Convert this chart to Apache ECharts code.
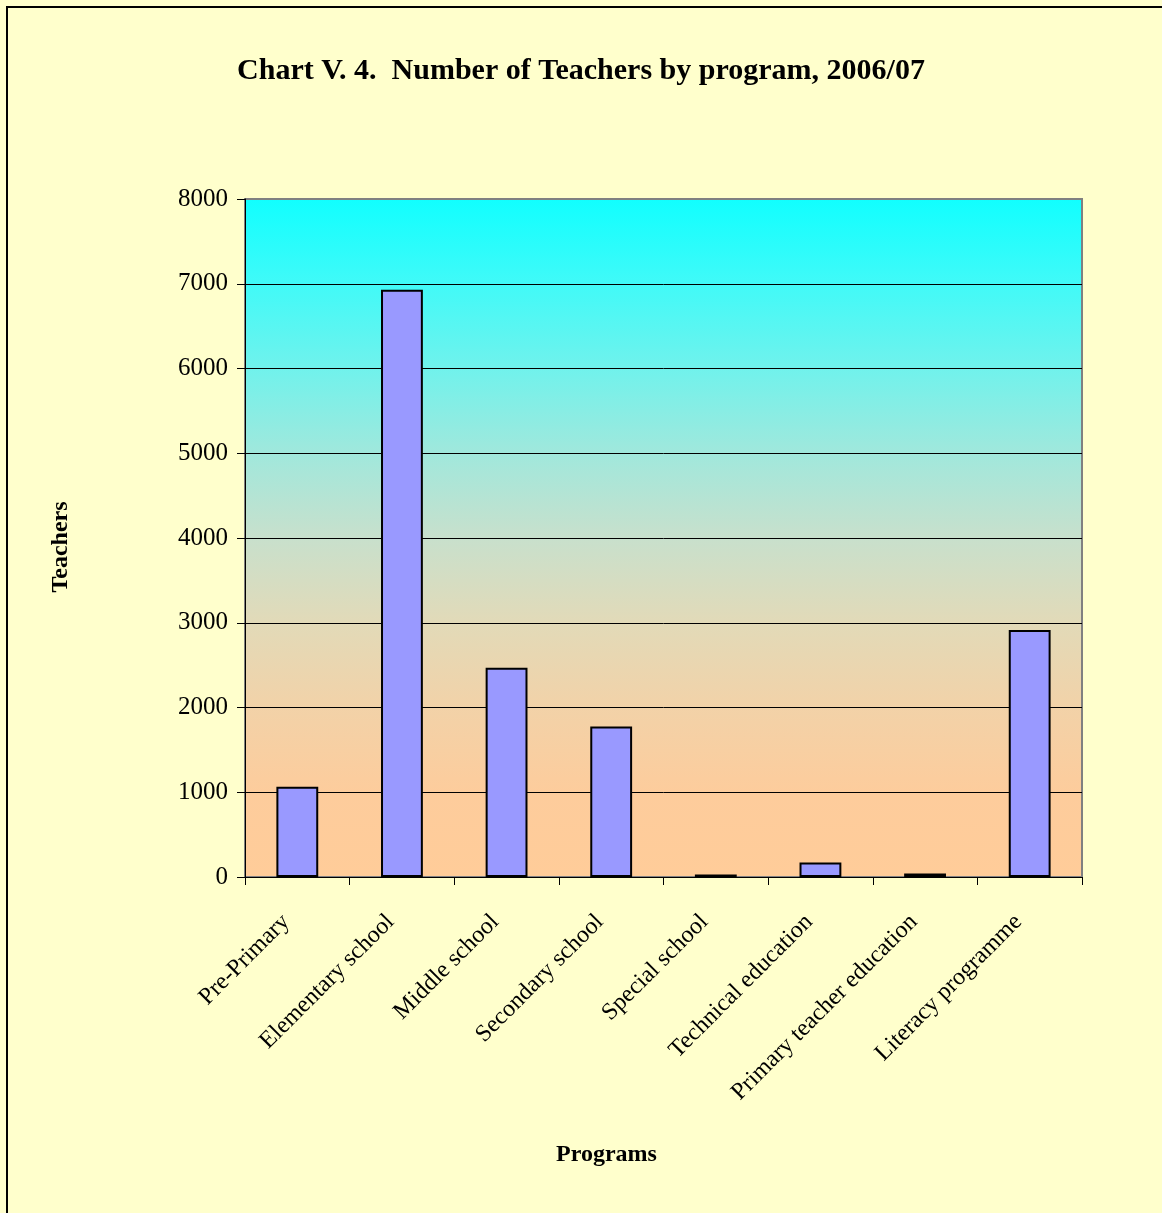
<!DOCTYPE html>
<html>
<head>
<meta charset="utf-8">
<script src="https://cdn.jsdelivr.net/npm/echarts@6/dist/echarts.min.js"></script>
<style>
  html, body { margin: 0; padding: 0; background: #FFFFCC; }
</style>
</head>
<body>
<div id="teachers" style="width:1162px;height:1213px;"></div>
<script>
  // data
  var programs = ['Pre-Primary', 'Elementary school', 'Middle school', 'Secondary school',
    'Special school', 'Technical education', 'Primary teacher education', 'Literacy programme']
  var teachers = [1065, 6930, 2470, 1775, 30, 170, 40, 2915]
  var yTicks = [0, 1000, 2000, 3000, 4000, 5000, 6000, 7000, 8000]

  var font = '"Liberation Serif", "Times New Roman", serif'

  var chart = echarts.init(document.getElementById('teachers'))
  var option = {
    backgroundColor: '#FFFFCC',
    textStyle: { fontFamily: font },
    title: {
      text: 'Chart V. 4.  Number of Teachers by program, 2006/07',
      left: 'center',
      top: 51,
      textStyle: {
        fontFamily: font,
        fontWeight: 'bold',
        fontSize: 30,
        color: '#000'
      }
    },
    graphic: [
      {
        type: 'rect',
        shape: { x: 7, y: 7, width: 1300, height: 1300 },
        style: { fill: 'none', stroke: '#000', lineWidth: 2 },
        silent: true
      }
    ],
    grid: {
      left: 245,
      right: 80,
      top: 199,
      bottom: 336,
      show: true,
      borderColor: '#808080',
      borderWidth: 2,
      backgroundColor: new echarts.graphic.LinearGradient(0, 0, 0, 1, [
        { offset: 0, color: '#10FFFF' },
        { offset: 0.125, color: '#40FAF8' },
        { offset: 0.25, color: '#70F2EC' },
        { offset: 0.375, color: '#A0E8DC' },
        { offset: 0.5, color: '#C8E0CC' },
        { offset: 0.625, color: '#E2DAB8' },
        { offset: 0.75, color: '#F2D2A8' },
        { offset: 0.875, color: '#FDCC9C' },
        { offset: 1, color: '#FFCC99' }
      ])
    },
    xAxis: {
      type: 'category',
      data: programs,
      name: 'Programs',
      nameLocation: 'middle',
      nameGap: 266,
      nameTextStyle: {
        fontFamily: font, fontWeight: 'bold', fontSize: 24, color: '#000',
        padding: [0, 114, 0, 0]
      },
      axisLine: { lineStyle: { color: '#000', width: 1 } },
      axisTick: { show: true, length: 8, inside: false, lineStyle: { color: '#000' } },
      axisLabel: {
        rotate: 45,
        interval: 0,
        margin: 30,
        padding: [0, 16, 0, 0],
        fontFamily: font,
        fontSize: 24,
        color: '#000'
      }
    },
    yAxis: {
      type: 'value',
      min: 0,
      max: 8000,
      interval: 1000,
      name: 'Teachers',
      nameLocation: 'middle',
      nameGap: 172,
      nameRotate: 90,
      nameTextStyle: {
        fontFamily: font, fontWeight: 'bold', fontSize: 24, color: '#000',
        padding: [0, 18, 0, 0]
      },
      axisLine: { show: true, lineStyle: { color: '#000', width: 1 } },
      axisTick: { show: true, length: 8, lineStyle: { color: '#000' } },
      axisLabel: {
        margin: 17,
        fontFamily: font,
        fontSize: 25,
        color: '#000',
        formatter: function (v) { return yTicks.indexOf(v) >= 0 ? String(v) : '' }
      },
      splitLine: {
        show: true,
        lineStyle: {
          color: ['#000', '#000', '#000', '#000', '#000', '#000', '#000', '#000', '#808080'],
          width: 1
        }
      }
    },
    series: [
      {
        name: 'Teachers',
        type: 'bar',
        data: teachers,
        barWidth: '40%',
        itemStyle: {
          color: '#9999FF',
          borderColor: '#000',
          borderWidth: 2
        }
      }
    ]
  }
  chart.setOption(option)
</script>
</body>
</html>
